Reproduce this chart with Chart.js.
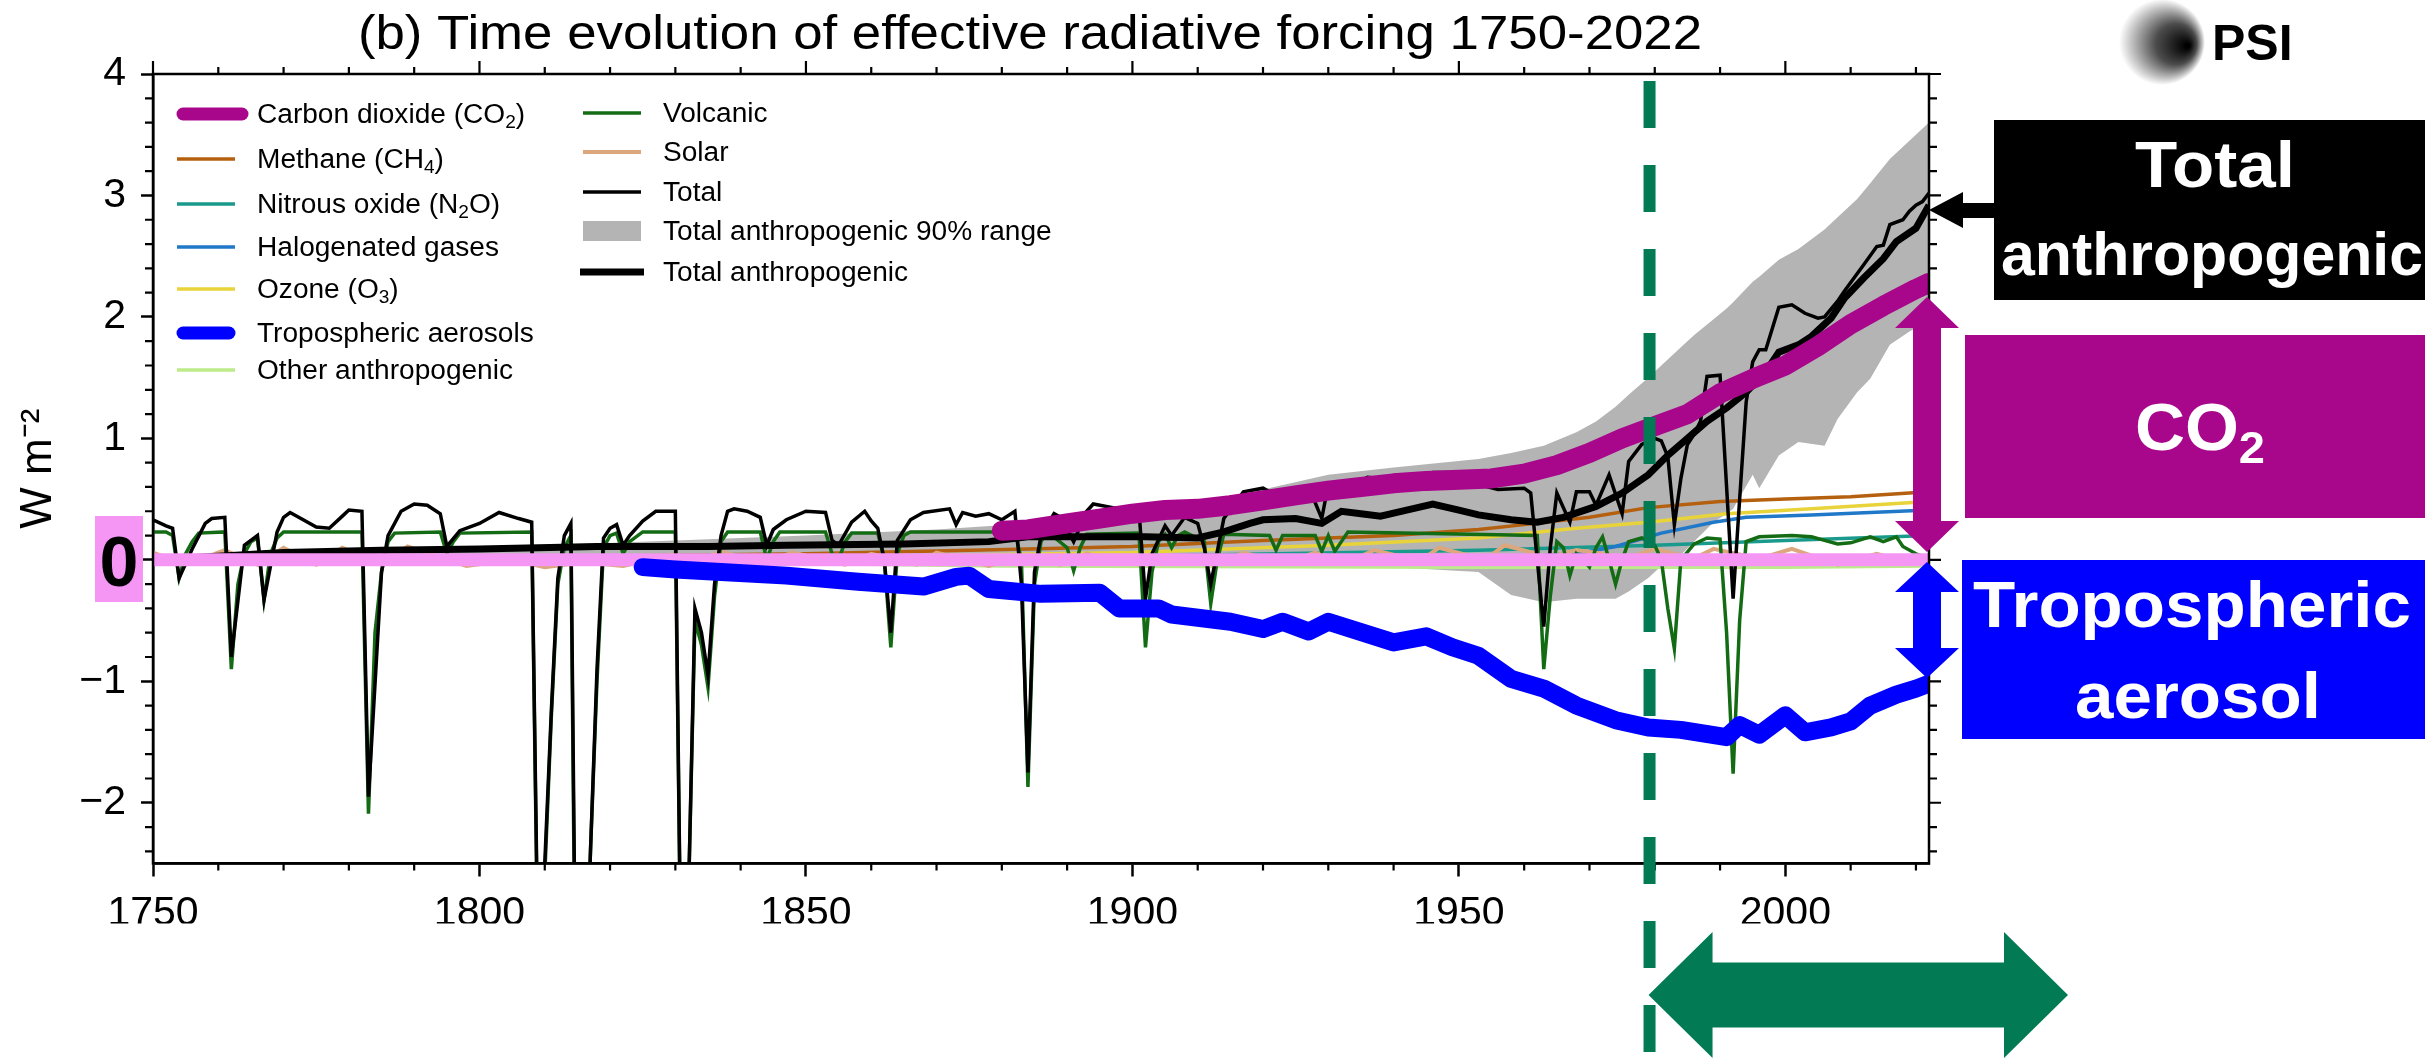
<!DOCTYPE html>
<html>
<head>
<meta charset="utf-8">
<script src="https://cdn.jsdelivr.net/npm/chart.js@4.4.1/dist/chart.umd.min.js"></script>
<style>
  html, body { margin: 0; padding: 0; background: #fff; }
  canvas { display: block; }
</style>
</head>
<body>
<canvas id="erf-chart" width="2425" height="1058"></canvas>
<script>
// effective radiative forcing, W m-2

// total (thin black), yearly where the volcanic spikes need it
const totalYears = [1750,1752,1753,1754,1756,1758,1759,1761,1762,1764,1766,1767,1769,1770,1771,1773,1775,1777,1779,1780,1782,1783,1785,1786,1788,1790,1792,1794,1795,1797,1800,1803,1806,1808,1809,1810,1811,1812,1813,1814,1815,1816,1817,1818,1819,1820,1821,1822,1823,1825,1827,1830,1831,1832,1833,1834,1835,1836,1837,1838,1839,1841,1843,1844,1845,1847,1850,1853,1854,1855,1857,1859,1860,1861,1862,1863,1864,1866,1868,1872,1873,1874,1876,1878,1880,1882,1883,1884,1885,1886,1888,1889,1891,1893,1894,1897,1901,1902,1903,1905,1906,1908,1910,1911,1912,1914,1917,1920,1923,1927,1929,1930,1933,1936,1938,1940,1943,1946,1949,1951,1953,1956,1960,1961,1962,1963,1964,1965,1967,1968,1970,1971,1973,1975,1976,1978,1980,1981,1982,1983,1984,1985,1986,1987,1988,1990,1991,1992,1993,1994,1995,1996,1997,1999,2001,2003,2005,2006,2008,2009,2012,2014,2015,2016,2018,2019,2020,2021,2022];
const totalValues = [0.33,0.28,0.26,-0.15,0.09,0.30,0.34,0.35,-0.80,0.12,0.20,-0.33,0.23,0.35,0.39,0.33,0.27,0.26,0.36,0.41,0.40,-1.95,-0.10,0.20,0.40,0.46,0.45,0.38,0.11,0.24,0.30,0.39,0.34,0.31,-3.40,-2.50,-1.25,-0.15,0.20,0.30,-5.00,-4.00,-2.40,-0.90,0.18,0.26,0.29,0.12,0.20,0.32,0.40,0.40,-4.00,-2.80,-0.40,-0.60,-0.95,-0.20,0.20,0.40,0.42,0.40,0.35,0.12,0.25,0.33,0.40,0.39,0.16,0.12,0.31,0.40,0.32,0.26,0.00,-0.60,0.16,0.33,0.39,0.42,0.29,0.39,0.36,0.38,0.33,0.40,-0.20,-1.75,-0.10,0.20,0.38,0.35,0.15,0.40,0.46,0.43,0.41,-0.32,0.05,0.28,0.20,0.35,0.30,0.10,-0.20,0.34,0.56,0.59,0.50,0.60,0.34,0.62,0.59,0.68,0.67,0.64,0.66,0.72,0.72,0.62,0.62,0.58,0.59,0.55,0.00,-0.55,0.10,0.55,0.31,0.56,0.56,0.45,0.70,0.38,0.81,0.95,1.00,0.98,0.85,0.29,0.67,0.95,1.03,1.14,1.51,1.52,0.60,-0.32,0.50,1.30,1.63,1.73,1.73,2.08,2.10,2.03,1.99,2.00,2.13,2.21,2.43,2.58,2.59,2.76,2.80,2.87,2.92,2.95,3.02];

// volcanic (dark green)
const volcanicYears = [1750,1752,1753,1754,1755,1756,1757,1761,1762,1763,1764,1765,1766,1767,1768,1769,1770,1782,1783,1784,1785,1786,1787,1794,1795,1796,1797,1808,1809,1810,1811,1812,1813,1814,1815,1816,1817,1818,1819,1820,1821,1822,1823,1825,1830,1831,1832,1833,1834,1835,1836,1837,1838,1843,1844,1845,1846,1853,1854,1855,1856,1857,1861,1862,1863,1864,1865,1866,1882,1883,1884,1885,1886,1887,1890,1891,1892,1893,1901,1902,1903,1904,1905,1906,1907,1908,1911,1912,1913,1914,1921,1922,1923,1928,1929,1930,1931,1932,1933,1962,1963,1964,1965,1966,1967,1968,1969,1970,1971,1972,1973,1974,1975,1976,1978,1980,1981,1982,1983,1984,1986,1988,1990,1991,1992,1993,1994,1996,2001,2004,2006,2008,2010,2013,2015,2017,2018,2020,2022];
const volcanicValues = [0.23,0.23,0.20,-0.15,0.05,0.15,0.22,0.23,-0.90,-0.20,0.05,0.15,0.18,-0.33,0.05,0.18,0.23,0.23,-2.09,-0.60,-0.10,0.15,0.22,0.23,0.05,0.15,0.22,0.23,-3.50,-2.60,-1.30,-0.20,0.10,0.20,-5.50,-4.20,-2.40,-1.00,0.10,0.20,0.22,0.05,0.15,0.23,0.23,-4.00,-2.80,-0.50,-0.70,-1.05,-0.30,0.15,0.23,0.23,0.00,0.15,0.23,0.23,0.05,0.00,0.15,0.22,0.22,0.00,-0.72,0.05,0.20,0.23,0.23,0.00,-1.87,-0.20,0.15,0.23,0.10,-0.09,0.10,0.21,0.22,-0.72,-0.10,0.15,0.21,0.10,0.20,0.23,0.15,-0.36,0.00,0.21,0.20,0.08,0.20,0.20,0.07,0.20,0.07,0.15,0.23,0.20,-0.90,-0.30,0.15,0.10,-0.13,0.05,0.00,-0.06,0.10,0.19,0.00,-0.20,0.00,0.15,0.18,0.12,0.00,-0.40,-0.73,0.00,0.13,0.18,0.17,-0.60,-1.76,-0.50,0.15,0.19,0.20,0.19,0.16,0.13,0.14,0.19,0.15,0.19,0.11,0.05,0.01];

// solar (tan)
const solarYears = [1750,1755,1761,1766,1770,1775,1779,1785,1789,1798,1805,1810,1816,1822,1830,1833,1837,1843,1848,1856,1860,1867,1870,1878,1883,1889,1893,1901,1905,1913,1917,1923,1928,1933,1937,1944,1947,1954,1957,1964,1968,1976,1980,1986,1989,1996,2001,2008,2014,2019,2022];
const solarValues = [0.06,-0.04,0.08,-0.04,0.10,-0.04,0.10,-0.04,0.11,-0.05,0.00,-0.06,-0.02,-0.05,0.05,-0.02,0.07,-0.03,0.06,-0.04,0.05,-0.04,0.06,-0.05,0.03,-0.04,0.05,-0.04,0.04,-0.04,0.06,-0.03,0.06,-0.02,0.08,-0.01,0.10,0.00,0.12,0.02,0.08,0.02,0.09,0.01,0.09,0.01,0.09,-0.04,0.05,-0.03,0.00];

// total anthropogenic (thick black)
const anthroYears = [1750,1760,1770,1785,1800,1818,1835,1847,1865,1878,1884,1895,1902,1910,1914,1918,1920,1925,1929,1932,1935,1938,1942,1946,1950,1953,1958,1962,1966,1971,1975,1979,1982,1985,1988,1991,1994,1997,1999,2002,2004,2007,2009,2012,2015,2017,2020,2022];
const anthroValues = [0.00,0.03,0.06,0.08,0.09,0.11,0.11,0.12,0.13,0.15,0.19,0.19,0.19,0.18,0.23,0.30,0.33,0.34,0.30,0.40,0.38,0.36,0.41,0.46,0.41,0.37,0.33,0.31,0.35,0.44,0.55,0.70,0.86,1.00,1.14,1.25,1.38,1.55,1.71,1.77,1.84,1.99,2.15,2.32,2.48,2.62,2.73,2.92];

// total anthropogenic 90% range (grey band)
const rangeYears = [1750,1800,1830,1850,1870,1884,1900,1913,1920,1930,1940,1953,1958,1963,1968,1971,1974,1976,1979,1981,1984,1986,1989,1991,1992,1995,1996,1999,2002,2006,2008,2011,2013,2016,2019,2022];
const rangeUpper = [0.02,0.10,0.16,0.20,0.25,0.30,0.40,0.50,0.58,0.70,0.76,0.83,0.88,0.94,1.05,1.14,1.26,1.36,1.50,1.60,1.75,1.85,1.98,2.07,2.12,2.29,2.33,2.47,2.56,2.72,2.82,2.97,3.10,3.30,3.45,3.60];
const rangeLower = [-0.02,-0.02,-0.03,-0.03,-0.04,-0.04,-0.04,-0.04,-0.04,-0.05,-0.06,-0.10,-0.29,-0.35,-0.32,-0.32,-0.32,-0.26,-0.15,-0.05,0.04,0.15,0.31,0.38,0.42,0.70,0.59,0.86,0.97,0.94,1.16,1.38,1.49,1.77,1.88,1.96];

// carbon dioxide (highlighted from 1880 on)
const co2Years = [1880,1884,1890,1895,1900,1905,1910,1915,1920,1925,1930,1935,1940,1945,1950,1955,1960,1965,1970,1975,1980,1985,1990,1995,2000,2005,2010,2015,2020,2022];
const co2Values = [0.24,0.25,0.30,0.34,0.38,0.41,0.42,0.45,0.49,0.53,0.57,0.60,0.63,0.65,0.66,0.67,0.71,0.78,0.88,1.00,1.10,1.20,1.37,1.49,1.60,1.76,1.94,2.09,2.23,2.28];

// tropospheric aerosols (highlighted from 1825 on)
const aerosolYears = [1825,1830,1837,1847,1858,1868,1873,1875,1878,1886,1895,1898,1904,1906,1915,1920,1923,1927,1930,1940,1945,1949,1953,1958,1963,1968,1974,1979,1984,1991,1993,1996,2000,2003,2007,2010,2013,2017,2020,2022];
const aerosolValues = [-0.06,-0.08,-0.10,-0.13,-0.18,-0.22,-0.14,-0.13,-0.24,-0.28,-0.27,-0.40,-0.40,-0.45,-0.51,-0.57,-0.51,-0.59,-0.51,-0.68,-0.63,-0.72,-0.79,-0.98,-1.06,-1.20,-1.32,-1.38,-1.40,-1.46,-1.36,-1.44,-1.28,-1.42,-1.38,-1.33,-1.20,-1.11,-1.06,-1.02];

// smaller components
const methaneYears = [1750,1800,1850,1884,1900,1920,1940,1953,1960,1970,1979,1990,2000,2010,2022];
const methaneValues = [0.00,0.02,0.05,0.09,0.11,0.16,0.20,0.25,0.29,0.35,0.43,0.48,0.50,0.52,0.56];
const n2oYears = [1750,1850,1900,1953,1980,2000,2022];
const n2oValues = [0.00,0.01,0.03,0.08,0.12,0.16,0.20];
const halogenYears = [1750,1930,1950,1960,1968,1974,1981,1989,1994,2004,2022];
const halogenValues = [0.00,0.00,0.01,0.03,0.05,0.11,0.22,0.31,0.35,0.37,0.41];
const ozoneYears = [1750,1850,1900,1930,1953,1968,1979,1991,2004,2022];
const ozoneValues = [0.00,0.02,0.06,0.12,0.18,0.26,0.31,0.38,0.42,0.48];
const otherYears = [1750,1800,1850,1880,1950,2000,2022];
const otherValues = [0.00,-0.01,-0.03,-0.05,-0.06,-0.06,-0.05];

// highlighted zero line
const zeroYears = [1750, 2022];
const zeroValues = [0, 0];

const legendCol1 = ['Carbon dioxide (CO_2)', 'Methane (CH_4)', 'Nitrous oxide (N_2O)', 'Halogenated gases', 'Ozone (O_3)', 'Tropospheric aerosols', 'Other anthropogenic'];
const legendCol2 = ['Volcanic', 'Solar', 'Total', 'Total anthropogenic 90% range', 'Total anthropogenic'];

function points(years, values) {
    return years.map((yr, i) => ({ x: yr, y: values[i] }));
}

function line(label, years, values, color, width) {
    return {
        label: label,
        data: points(years, values),
        borderColor: color,
        borderWidth: width,
        pointRadius: 0,
        tension: 0,
        fill: false
    };
}

const co2Line = line('Carbon dioxide (CO_2)', co2Years, co2Values, '#a8078b', 20);
co2Line.borderCapStyle = 'round';
co2Line.borderJoinStyle = 'round';
const aerosolLine = line('Tropospheric aerosols', aerosolYears, aerosolValues, '#0000ff', 18);
aerosolLine.borderCapStyle = 'round';
aerosolLine.borderJoinStyle = 'round';

const rangeTop = line('Total anthropogenic 90% range', rangeYears, rangeUpper, 'rgba(0,0,0,0)', 1);
rangeTop.fill = '+1';
rangeTop.backgroundColor = '#b4b4b4';
const rangeBottom = line('range lower', rangeYears, rangeLower, 'rgba(0,0,0,0)', 1);

// first dataset is drawn on top
const datasets = [
    co2Line,
    aerosolLine,
    line('zero', zeroYears, zeroValues, '#f596f5', 13),
    line('Total anthropogenic', anthroYears, anthroValues, '#000000', 7),
    line('Total', totalYears, totalValues, '#000000', 3.5),
    line('Volcanic', volcanicYears, volcanicValues, '#136b14', 3.5),
    line('Solar', solarYears, solarValues, '#dca77c', 4),
    line('Other anthropogenic', otherYears, otherValues, '#bdeb8a', 3.5),
    line('Ozone (O_3)', ozoneYears, ozoneValues, '#e8d43a', 3.5),
    line('Halogenated gases', halogenYears, halogenValues, '#1f78c8', 3.5),
    line('Nitrous oxide (N_2O)', n2oYears, n2oValues, '#1a9a8c', 3.5),
    line('Methane (CH_4)', methaneYears, methaneValues, '#b4600e', 3.5),
    rangeTop,
    rangeBottom
];

const FONT = '"Liberation Sans", Arial, sans-serif';

// text with _N subscripts, optionally stretched sideways
function richText(ctx, str, x, y, size, weight, align, sx) {
    sx = sx || 1;
    const parts = str.split(/_(\d)/);
    let w = 0;
    parts.forEach((p, i) => {
        ctx.font = weight + ' ' + (i % 2 ? size * 0.68 : size) + 'px ' + FONT;
        w += ctx.measureText(p).width;
    });
    ctx.save();
    ctx.translate(align === 'center' ? x - w * sx / 2 : x, y);
    ctx.scale(sx, 1);
    ctx.textAlign = 'left';
    ctx.textBaseline = 'alphabetic';
    let cx = 0;
    parts.forEach((p, i) => {
        const sub = i % 2 === 1;
        ctx.font = weight + ' ' + (sub ? size * 0.68 : size) + 'px ' + FONT;
        ctx.fillText(p, cx, sub ? size * 0.2 : 0);
        cx += ctx.measureText(p).width;
    });
    ctx.restore();
}

function poly(ctx, pts, color) {
    ctx.fillStyle = color;
    ctx.beginPath();
    ctx.moveTo(pts[0][0], pts[0][1]);
    pts.slice(1).forEach(p => ctx.lineTo(p[0], p[1]));
    ctx.closePath();
    ctx.fill();
}

function vArrow(ctx, cx, y0, y1, head, hs, hh, color) {
    poly(ctx, [[cx, y0], [cx + hh, y0 + head], [cx + hs, y0 + head], [cx + hs, y1 - head], [cx + hh, y1 - head], [cx, y1],
        [cx - hh, y1 - head], [cx - hs, y1 - head], [cx - hs, y0 + head], [cx - hh, y0 + head]], color);
}

function hArrow(ctx, x0, x1, cy, head, hs, hh, color) {
    poly(ctx, [[x0, cy], [x0 + head, cy - hh], [x0 + head, cy - hs], [x1 - head, cy - hs], [x1 - head, cy - hh], [x1, cy],
        [x1 - head, cy + hh], [x1 - head, cy + hs], [x0 + head, cy + hs], [x0 + head, cy + hh]], color);
}

const overlay = {
    id: 'overlay',
    afterDraw(chart) {
        const ctx = chart.ctx;
        const a = chart.chartArea;
        const xs = chart.scales.x;
        const ys = chart.scales.y;
        ctx.save();

        // all four spines
        ctx.strokeStyle = '#000';
        ctx.lineWidth = 2.5;
        ctx.strokeRect(a.left, a.top, a.right - a.left, a.bottom - a.top);

        // minor ticks, plus major ticks on top and right
        ctx.lineWidth = 2.2;
        ctx.beginPath();
        for (let yr = 1750; yr <= 2020; yr += 10) {
            const px = xs.getPixelForValue(yr);
            const major = yr % 50 === 0;
            const len = major ? 13 : 7;
            ctx.moveTo(px, a.top);
            ctx.lineTo(px, a.top - len);
            if (!major) {
                ctx.moveTo(px, a.bottom);
                ctx.lineTo(px, a.bottom + len);
            }
        }
        for (let i = -12; i <= 20; i++) {
            const py = ys.getPixelForValue(i / 5);
            const major = i % 5 === 0;
            const len = major ? 12 : 8;
            ctx.moveTo(a.right, py);
            ctx.lineTo(a.right + len, py);
            if (!major) {
                ctx.moveTo(a.left, py);
                ctx.lineTo(a.left - len, py);
            }
        }
        ctx.stroke();

        // title
        ctx.fillStyle = '#000';
        richText(ctx, '(b) Time evolution of effective radiative forcing 1750-2022', 1030, 49, 48, 'normal', 'center', 1.1);

        // legend, two columns
        const byLabel = {};
        chart.data.datasets.forEach(ds => { byLabel[ds.label] = ds; });
        const rows1 = [114, 159, 204, 247, 289, 333, 370];
        const rows2 = [113, 152, 192, 231, 272];
        const drawEntry = (label, hx0, hx1, tx, y) => {
            const ds = byLabel[label];
            if (ds.fill) {
                ctx.fillStyle = ds.backgroundColor;
                ctx.fillRect(hx0, y - 10, hx1 - hx0, 20);
            } else {
                ctx.strokeStyle = ds.borderColor;
                ctx.lineWidth = Math.min(ds.borderWidth, 13);
                ctx.lineCap = ds.borderCapStyle || 'butt';
                const inset = ds.borderCapStyle === 'round' ? 6 : 0;
                ctx.beginPath();
                ctx.moveTo(hx0 + inset, y);
                ctx.lineTo(hx1 - inset, y);
                ctx.stroke();
                ctx.lineCap = 'butt';
            }
            ctx.fillStyle = '#000';
            richText(ctx, label, tx, y + 9, 27, 'normal', 'left', 1.04);
        };
        legendCol1.forEach((lab, i) => drawEntry(lab, 177, lab.startsWith('Carbon') ? 248 : 235, 257, rows1[i]));
        legendCol2.forEach((lab, i) => drawEntry(lab, lab === 'Total anthropogenic' ? 580 : 583, lab === 'Total anthropogenic' ? 644 : 641, 663, rows2[i]));

        // highlighted zero label
        ctx.fillStyle = '#f596f5';
        ctx.fillRect(95, 516, 48, 86);
        ctx.fillStyle = '#000';
        ctx.font = 'bold 70px ' + FONT;
        ctx.textAlign = 'center';
        ctx.fillText('0', 119, 586);

        // dashed line at 1979 and period arrow
        const x79 = xs.getPixelForValue(1979.2);
        ctx.strokeStyle = '#027a54';
        ctx.lineWidth = 12;
        ctx.setLineDash([47, 37]);
        ctx.beginPath();
        ctx.moveTo(x79, 81);
        ctx.lineTo(x79, 1058);
        ctx.stroke();
        ctx.setLineDash([]);
        hArrow(ctx, x79 - 1, 2068, 995, 64, 32.5, 63, '#027a54');

        // right-hand annotations
        ctx.fillStyle = '#000';
        ctx.fillRect(1994, 120, 431, 180);
        poly(ctx, [[a.right, 210], [a.right + 34, 192], [a.right + 34, 203], [1996, 203], [1996, 218], [a.right + 34, 218], [a.right + 34, 228]], '#000');
        ctx.fillStyle = '#a8078b';
        ctx.fillRect(1965, 335, 460, 183);
        vArrow(ctx, 1927, 297, 552, 31, 14, 32, '#a8078b');
        ctx.fillStyle = '#0000ff';
        ctx.fillRect(1962, 560, 463, 179);
        vArrow(ctx, 1927, 562, 678, 30, 14, 32, '#0000ff');

        ctx.fillStyle = '#fff';
        richText(ctx, 'Total', 2215, 187, 64, 'bold', 'center', 1.08);
        richText(ctx, 'anthropogenic', 2212, 275, 62, 'bold', 'center', 0.98);
        richText(ctx, 'Tropospheric', 2192, 627, 64, 'bold', 'center', 1.08);
        richText(ctx, 'aerosol', 2198, 718, 64, 'bold', 'center', 1.08);
        richText(ctx, 'CO_2', 2200, 450, 66, 'bold', 'center', 1.05);

        // PSI logo
        const g = ctx.createRadialGradient(2188, 46, 2, 2162, 42, 43);
        g.addColorStop(0, 'rgba(0,0,0,1)');
        g.addColorStop(0.45, 'rgba(0,0,0,0.7)');
        g.addColorStop(1, 'rgba(0,0,0,0)');
        ctx.fillStyle = g;
        ctx.beginPath();
        ctx.arc(2162, 42, 43, 0, Math.PI * 2);
        ctx.fill();
        ctx.fillStyle = '#000';
        ctx.textAlign = 'left';
        ctx.font = 'bold 50px ' + FONT;
        ctx.fillText('PSI', 2212, 60);

        ctx.restore();
    }
};

Chart.defaults.font.family = FONT;
Chart.defaults.color = '#000';

new Chart(document.getElementById('erf-chart').getContext('2d'), {
    type: 'line',
    data: { datasets: datasets },
    options: {
        responsive: false,
        devicePixelRatio: 1,
        animation: false,
        layout: { padding: { left: 0, top: 74, right: 496, bottom: 134.5 } },
        plugins: {
            legend: { display: false },
            title: { display: false },
            tooltip: { enabled: false }
        },
        scales: {
            x: {
                type: 'linear',
                min: 1750,
                max: 2022,
                ticks: {
                    stepSize: 50,
                    includeBounds: false,
                    maxRotation: 0,
                    padding: 13,
                    font: { size: 41 },
                    callback: v => String(v)
                },
                grid: { drawOnChartArea: false, drawTicks: true, tickLength: 13, tickWidth: 2.5, tickColor: '#000' },
                border: { display: true, color: '#000', width: 2.5 },
                afterFit: s => { s.height = 60; }
            },
            y: {
                type: 'linear',
                min: -2.5,
                max: 4,
                ticks: {
                    stepSize: 1,
                    includeBounds: false,
                    padding: 15,
                    font: { size: 41 },
                    callback: v => v < 0 ? '\u2212' + Math.abs(v) : String(v)
                },
                grid: { drawOnChartArea: false, drawTicks: true, tickLength: 12, tickWidth: 2.5, tickColor: '#000' },
                border: { display: true, color: '#000', width: 2.5 },
                title: { display: true, text: 'W m\u207b\u00b2', font: { size: 44 }, padding: { top: 12, bottom: 0 } },
                afterFit: s => { s.width = 153; }
            }
        }
    },
    plugins: [overlay]
});
</script>
</body>
</html>
